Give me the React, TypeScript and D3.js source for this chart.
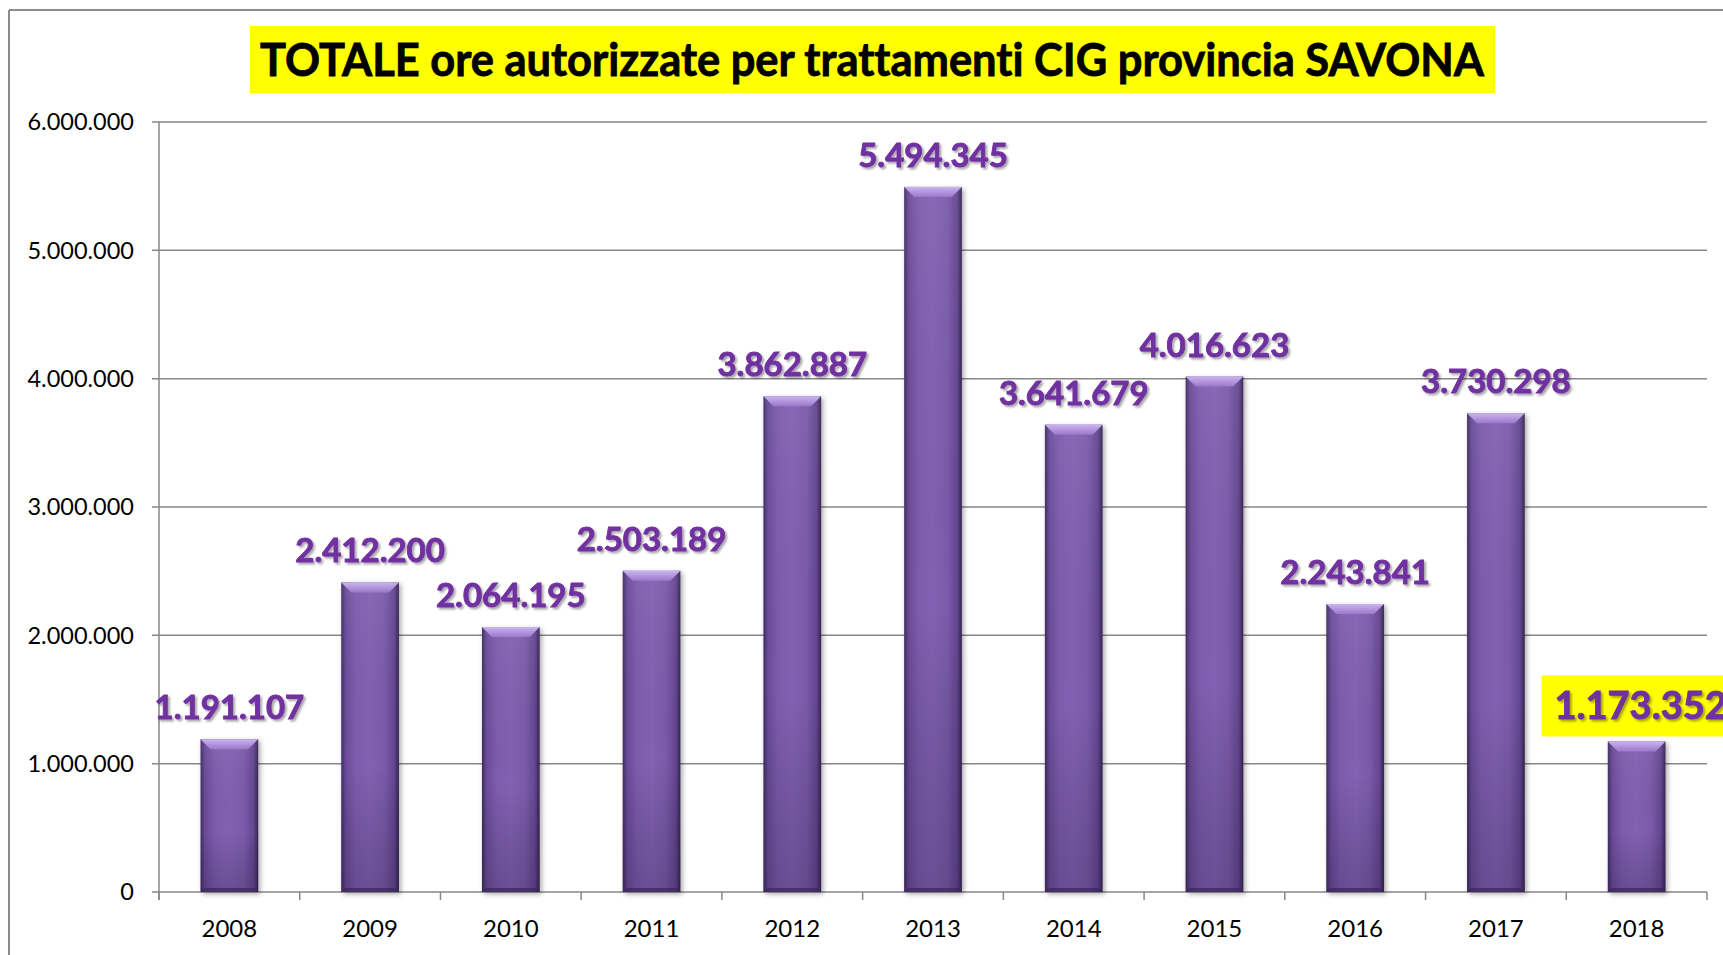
import React from "react";
import * as d3 from "d3";

const years = ["2008", "2009", "2010", "2011", "2012", "2013", "2014", "2015", "2016", "2017", "2018"];
const hours = [1191107, 2412200, 2064195, 2503189, 3862887, 5494345, 3641679, 4016623, 2243841, 3730298, 1173352];
const yTicks = [0, 1000000, 2000000, 3000000, 4000000, 5000000, 6000000];
const highlighted = ["2018"];
const title = "TOTALE ore autorizzate per trattamenti CIG provincia SAVONA";

const W = 1723;
const H = 955;
const FONT = "Lato, 'Open Sans', 'Liberation Sans', sans-serif";

const itLocale = d3.formatLocale({ decimal: ",", thousands: ".", grouping: [3], currency: ["€", ""] });
const fmt = itLocale.format(",d");

export default function App() {
  const x = d3.scaleBand<string>().domain(years).range([159, 1707]).paddingInner(0.59).paddingOuter(0.295);
  const y = d3.scaleLinear().domain([0, 6000000]).range([892, 122]);
  const step = x.step();
  const bw = x.bandwidth();
  const bev = 10;
  const axisX0 = 159;
  const axisX1 = 1707;
  const noLig = { fontVariantLigatures: "none", fontFeatureSettings: "'liga' 0" } as React.CSSProperties;

  return (
    <svg
      width={W}
      height={H}
      viewBox={`0 0 ${W} ${H}`}
      style={{ position: "absolute", left: 0, top: 0, background: "#fff" }}
    >
      <defs>
        <linearGradient id="barBody" x1="0" x2="1" y1="0" y2="0">
          <stop offset="0" stopColor="#3f2b62" />
          <stop offset="0.08" stopColor="#6a4c98" />
          <stop offset="0.25" stopColor="#7d5cad" />
          <stop offset="0.5" stopColor="#8262b2" />
          <stop offset="0.75" stopColor="#7a5aa9" />
          <stop offset="0.92" stopColor="#634690" />
          <stop offset="1" stopColor="#34234f" />
        </linearGradient>
        <linearGradient id="barVert" x1="0" x2="0" y1="0" y2="1">
          <stop offset="0" stopColor="#ffffff" stopOpacity="0.05" />
          <stop offset="0.6" stopColor="#000000" stopOpacity="0" />
          <stop offset="1" stopColor="#1a0f30" stopOpacity="0.22" />
        </linearGradient>
        <linearGradient id="bevTop" x1="0" x2="0" y1="0" y2="1">
          <stop offset="0" stopColor="#cbb4ee" />
          <stop offset="1" stopColor="#9a78cc" />
        </linearGradient>
        <filter id="barShadow" x="-30%" y="-5%" width="160%" height="115%">
          <feDropShadow dx="2" dy="2" stdDeviation="2.5" floodColor="#000" floodOpacity="0.35" />
        </filter>
        <filter id="txtShadow" x="-10%" y="-30%" width="120%" height="160%">
          <feDropShadow dx="2" dy="2" stdDeviation="1.2" floodColor="#000" floodOpacity="0.35" />
        </filter>
      </defs>

      {/* outer frame */}
      <line x1={9} y1={10} x2={W} y2={10} stroke="#8c8c8c" strokeWidth={2} />
      <line x1={9} y1={10} x2={9} y2={H} stroke="#8c8c8c" strokeWidth={2} />

      {/* title */}
      <rect x={250} y={26} width={1245} height={67} fill="#ffff00" />
      <text
        x={260}
        y={76}
        fontFamily={FONT}
        fontWeight={700}
        fontSize={45}
        fill="#000"
        stroke="#000"
        strokeWidth={0.8}
        textLength={1224}
        lengthAdjust="spacingAndGlyphs"
        style={noLig}
      >
        {title}
      </text>

      {/* gridlines & y axis */}
      {yTicks.map((t) => (
        <g key={t}>
          <line x1={axisX0 - 7} x2={axisX1} y1={y(t)} y2={y(t)} stroke="#878787" strokeWidth={1.5} />
          <text
            x={134}
            y={y(t)}
            dy="0.35em"
            textAnchor="end"
            fontFamily={FONT}
            fontSize={23.5}
            fill="#000"
          >
            {fmt(t)}
          </text>
        </g>
      ))}
      <line x1={axisX0} x2={axisX0} y1={y(6000000)} y2={y(0) + 8} stroke="#878787" strokeWidth={1.5} />
      {d3.range(years.length + 1).map((i) => (
        <line
          key={i}
          x1={axisX0 + i * step}
          x2={axisX0 + i * step}
          y1={y(0)}
          y2={y(0) + 8}
          stroke="#878787"
          strokeWidth={1.5}
        />
      ))}

      {/* bars */}
      {years.map((yr, i) => {
        const x0 = x(yr) as number;
        const x1 = x0 + bw;
        const top = y(hours[i]);
        const bot = y(0);
        return (
          <g key={yr}>
            <rect x={x0} y={top} width={bw} height={bot - top} fill="url(#barBody)" filter="url(#barShadow)" />
            <rect x={x0} y={top} width={bw} height={bot - top} fill="url(#barVert)" />
            <polygon
              points={`${x0},${top} ${x1},${top} ${x1 - bev},${top + bev} ${x0 + bev},${top + bev}`}
              fill="url(#bevTop)"
            />
            <polygon
              points={`${x0},${bot} ${x1},${bot} ${x1 - 4},${bot - 4} ${x0 + 4},${bot - 4}`}
              fill="#3a2760"
              opacity={0.7}
            />
          </g>
        );
      })}

      {/* x labels */}
      {years.map((yr) => (
        <text
          key={yr}
          x={(x(yr) as number) + bw / 2}
          y={937}
          textAnchor="middle"
          fontFamily={FONT}
          fontSize={24}
          fill="#000"
        >
          {yr}
        </text>
      ))}

      {/* value labels */}
      {years.map((yr, i) => {
        const cx = (x(yr) as number) + bw / 2;
        const by = y(hours[i]) - 20;
        const hl = highlighted.includes(yr);
        return (
          <g key={yr}>
            {hl && <rect x={cx - 95} y={by - 46} width={190} height={61} fill="#ffff00" />}
            <text
              x={hl ? cx + 4 : cx}
              y={hl ? by - 2 : by}
              textAnchor="middle"
              fontFamily={FONT}
              fontWeight={700}
              fontSize={hl ? 38 : 33}
              fill="#7030a0"
              stroke="#7030a0"
              strokeWidth={0.9}
              filter="url(#txtShadow)"
            >
              {fmt(hours[i])}
            </text>
          </g>
        );
      })}
    </svg>
  );
}
